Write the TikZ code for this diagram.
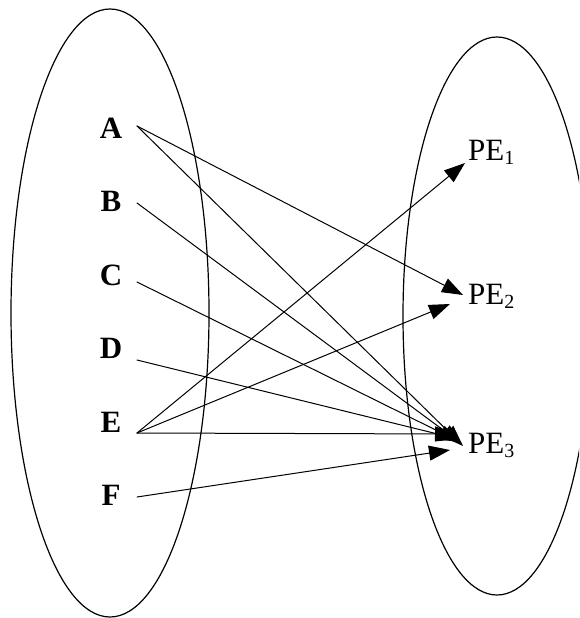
\documentclass[tikz,border=0pt]{standalone}
\usepackage{fontspec}
\setmainfont{Liberation Serif}
\usetikzlibrary{arrows.meta}
\tikzset{
  setline/.style={line width=1.2pt},
  maplink/.style={line width=1pt, -{Triangle[length=21pt, width=15pt]}},
  elem/.style={inner sep=0pt, font=\fontsize{31}{36}\selectfont\bfseries},
  pelabel/.style={inner sep=0pt, anchor=west, font=\fontsize{31}{36}\selectfont}
}
\newcommand{\pesub}[1]{PE\raisebox{-4pt}{\fontsize{20}{20}\selectfont #1}}
\begin{document}
\begin{tikzpicture}[x=1pt, y=-1pt, line cap=round, line join=round]
			\useasboundingbox (0,0) rectangle (579,618);
			\clip (0,0) rectangle (579,618);
			% the two sets
			\draw[setline] (110,313) ellipse [x radius=99, y radius=304];
			\draw[setline] (497,316) ellipse [x radius=94, y radius=279];
			% elements of the first set
			\node[elem] (A) at (111,128) {A};
			\node[elem] (B) at (111,201) {B};
			\node[elem] (C) at (111,275) {C};
			\node[elem] (D) at (111,348) {D};
			\node[elem] (E) at (111,422) {E};
			\node[elem] (F) at (111,495) {F};
			% elements of the second set
			\node[pelabel] (PE1) at (468,152) {\pesub{1}};
			\node[pelabel] (PE2) at (468,296) {\pesub{2}};
			\node[pelabel] (PE3) at (468,445) {\pesub{3}};
			% line starts
			\coordinate (a0) at (137,126);
			\coordinate (b0) at (137,203);
			\coordinate (c0) at (137,282);
			\coordinate (d0) at (137,360);
			\coordinate (e0) at (137,433);
			\coordinate (f0) at (137,497);
			% arrow tips
			\coordinate (p1e) at (465,163);
			\coordinate (p2a) at (463,295);
			\coordinate (p2e) at (450,304);
			\coordinate (p3a) at (463,446);
			\coordinate (p3b) at (462,444);
			\coordinate (p3c) at (460,442);
			\coordinate (p3d) at (458,439);
			\coordinate (p3e) at (456,434);
			\coordinate (p3f) at (450,450);
			\draw[maplink] (a0) -- (p2a);
			\draw[maplink] (a0) -- (p3a);
			\draw[maplink] (b0) -- (p3b);
			\draw[maplink] (c0) -- (p3c);
			\draw[maplink] (d0) -- (p3d);
			\draw[maplink] (e0) -- (p1e);
			\draw[maplink] (e0) -- (p2e);
			\draw[maplink] (e0) -- (p3e);
			\draw[maplink] (f0) -- (p3f);
\end{tikzpicture}
\end{document}
